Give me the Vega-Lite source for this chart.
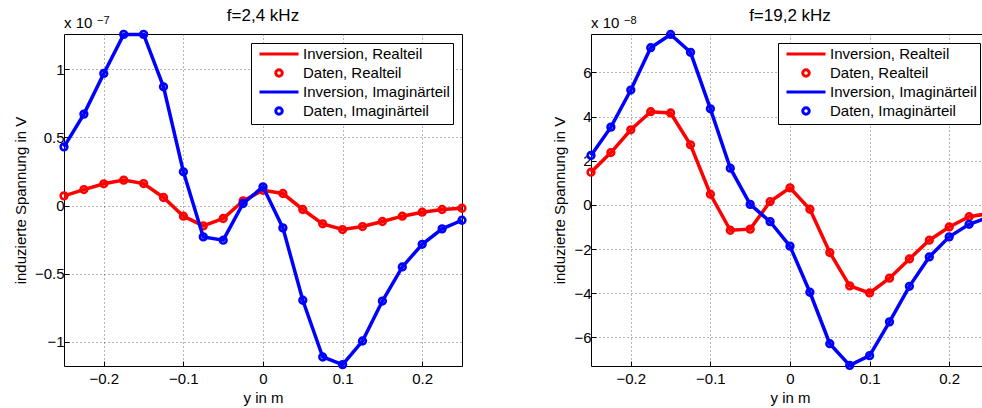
{
  "$schema": "https://vega.github.io/schema/vega-lite/v6.json",
  "padding": {"left": 12, "top": 6, "right": 0, "bottom": 0},
  "spacing": 80,
  "resolve": {"scale": {"color": "independent", "x": "independent", "y": "independent"}, "legend": {"color": "independent"}},
  "config": {
    "font": "Liberation Sans",
    "view": {"stroke": "#000", "strokeWidth": 1},
    "axis": {
      "labelFont": "Liberation Sans", "labelFontSize": 15, "labelColor": "#000",
      "titleFont": "Liberation Sans", "titleFontSize": 15, "titleFontWeight": "normal", "titleColor": "#000",
      "domain": false, "tickColor": "#000", "tickSize": -5, "tickWidth": 1,
      "grid": true, "gridColor": "#444", "gridDash": [1, 3], "gridOpacity": 0.8
    },
    "axisY": {"titlePadding": 6, "labelPadding": 5},
    "axisX": {"titlePadding": 4, "labelPadding": 10},
    "title": {"font": "Liberation Sans", "fontSize": 17, "fontWeight": "normal", "color": "#000", "anchor": "middle", "offset": -10},
    "legend": {
      "orient": "top-right", "offset": 9, "fillColor": "#fff", "strokeColor": "#000", "padding": 3,
      "labelFont": "Liberation Sans", "labelFontSize": 15, "labelColor": "#000", "labelLimit": 300,
      "symbolSize": 169, "symbolStrokeWidth": 3, "rowPadding": 1, "symbolOffset": 17, "labelOffset": 16
    }
  },
  "hconcat": [
    {
      "width": 398, "height": 332,
      "title": "f=2,4 kHz",
      "data": {"values": [
        {"pos": -0.25, "u": 0.071, "s": "Re"}, {"pos": -0.25, "u": 0.43, "s": "Im"},
        {"pos": -0.225, "u": 0.117, "s": "Re"}, {"pos": -0.225, "u": 0.67, "s": "Im"},
        {"pos": -0.2, "u": 0.159, "s": "Re"}, {"pos": -0.2, "u": 0.968, "s": "Im"},
        {"pos": -0.175, "u": 0.186, "s": "Re"}, {"pos": -0.175, "u": 1.254, "s": "Im"},
        {"pos": -0.15, "u": 0.161, "s": "Re"}, {"pos": -0.15, "u": 1.254, "s": "Im"},
        {"pos": -0.125, "u": 0.059, "s": "Re"}, {"pos": -0.125, "u": 0.87, "s": "Im"},
        {"pos": -0.1, "u": -0.078, "s": "Re"}, {"pos": -0.1, "u": 0.247, "s": "Im"},
        {"pos": -0.075, "u": -0.149, "s": "Re"}, {"pos": -0.075, "u": -0.23, "s": "Im"},
        {"pos": -0.05, "u": -0.095, "s": "Re"}, {"pos": -0.05, "u": -0.254, "s": "Im"},
        {"pos": -0.025, "u": 0.034, "s": "Re"}, {"pos": -0.025, "u": 0.015, "s": "Im"},
        {"pos": 0, "u": 0.112, "s": "Re"}, {"pos": 0, "u": 0.137, "s": "Im"},
        {"pos": 0.025, "u": 0.088, "s": "Re"}, {"pos": 0.025, "u": -0.164, "s": "Im"},
        {"pos": 0.05, "u": -0.029, "s": "Re"}, {"pos": 0.05, "u": -0.694, "s": "Im"},
        {"pos": 0.075, "u": -0.134, "s": "Re"}, {"pos": 0.075, "u": -1.11, "s": "Im"},
        {"pos": 0.1, "u": -0.176, "s": "Re"}, {"pos": 0.1, "u": -1.166, "s": "Im"},
        {"pos": 0.125, "u": -0.154, "s": "Re"}, {"pos": 0.125, "u": -0.993, "s": "Im"},
        {"pos": 0.15, "u": -0.117, "s": "Re"}, {"pos": 0.15, "u": -0.7, "s": "Im"},
        {"pos": 0.175, "u": -0.078, "s": "Re"}, {"pos": 0.175, "u": -0.45, "s": "Im"},
        {"pos": 0.2, "u": -0.049, "s": "Re"}, {"pos": 0.2, "u": -0.284, "s": "Im"},
        {"pos": 0.225, "u": -0.029, "s": "Re"}, {"pos": 0.225, "u": -0.171, "s": "Im"},
        {"pos": 0.25, "u": -0.02, "s": "Re"}, {"pos": 0.25, "u": -0.108, "s": "Im"}
      ]},
      "encoding": {
        "x": {"field": "pos", "type": "quantitative", "title": "y in m",
              "scale": {"domain": [-0.25, 0.25], "nice": false, "zero": false},
              "axis": {"values": [-0.2, -0.1, 0, 0.1, 0.2], "format": "~g"}},
        "y": {"field": "u", "type": "quantitative", "title": "induzierte Spannung in V",
              "scale": {"domain": [-1.176, 1.257], "nice": false, "zero": false},
              "axis": {"values": [-1, -0.5, 0, 0.5, 1], "format": "~g"}}
      },
      "layer": [
        {"transform": [{"filter": "datum.s == 'Re'"}],
         "mark": {"type": "line", "strokeWidth": 3.5},
         "encoding": {"color": {"datum": "Inversion, Realteil", "type": "nominal",
           "scale": {"domain": ["Inversion, Realteil", "Daten, Realteil", "Inversion, Imaginärteil", "Daten, Imaginärteil"], "range": ["#ff0000", "#ff0000", "#0000ff", "#0000ff"]},
           "legend": {"title": null, "encode": {"symbols": {"update": {
             "shape": {"signal": "indexof(datum.value, 'Inversion') === 0 ? 'M-3,0H3' : 'M0.5,0A0.5,0.5,0,1,1,-0.5,0A0.5,0.5,0,1,1,0.5,0'"},
             "fill": {"value": "transparent"},
             "stroke": {"signal": "indexof(datum.value, 'Real') >= 0 ? '#ff0000' : '#0000ff'"},
             "strokeWidth": {"value": 3}, "size": {"value": 169}, "opacity": {"value": 1}}}}}}}},
        {"transform": [{"filter": "datum.s == 'Re'"}],
         "mark": {"type": "point", "shape": "circle", "filled": false, "size": 45, "strokeWidth": 2.6, "opacity": 1},
         "encoding": {"color": {"datum": "Daten, Realteil", "type": "nominal"}}},
        {"transform": [{"filter": "datum.s == 'Im'"}],
         "mark": {"type": "line", "strokeWidth": 3.5},
         "encoding": {"color": {"datum": "Inversion, Imaginärteil", "type": "nominal"}}},
        {"transform": [{"filter": "datum.s == 'Im'"}],
         "mark": {"type": "point", "shape": "circle", "filled": false, "size": 45, "strokeWidth": 2.6, "opacity": 1},
         "encoding": {"color": {"datum": "Daten, Imaginärteil", "type": "nominal"}}},
        {"data": {"values": [{"t": "x 10", "e": "−7", "px": -0.25, "py": 1.257}]},
         "mark": {"type": "text", "align": "left", "baseline": "alphabetic", "dy": -6, "fill": "#000"},
         "encoding": {"x": {"field": "px", "type": "quantitative"}, "y": {"field": "py", "type": "quantitative"}, "text": {"field": "t"}, "size": {"value": 15}}},
        {"data": {"values": [{"t": "x 10", "e": "−7", "px": -0.25, "py": 1.257}]},
         "mark": {"type": "text", "align": "left", "baseline": "alphabetic", "dx": 33, "dy": -10, "fill": "#000"},
         "encoding": {"x": {"field": "px", "type": "quantitative"}, "y": {"field": "py", "type": "quantitative"}, "text": {"field": "e"}, "size": {"value": 11}}}
      ]
    },
    {
      "width": 398, "height": 332,
      "title": "f=19,2 kHz",
      "data": {"values": [
        {"pos": -0.25, "u": 1.48, "s": "Re"}, {"pos": -0.25, "u": 2.24, "s": "Im"},
        {"pos": -0.225, "u": 2.37, "s": "Re"}, {"pos": -0.225, "u": 3.52, "s": "Im"},
        {"pos": -0.2, "u": 3.4, "s": "Re"}, {"pos": -0.2, "u": 5.2, "s": "Im"},
        {"pos": -0.175, "u": 4.22, "s": "Re"}, {"pos": -0.175, "u": 7.12, "s": "Im"},
        {"pos": -0.15, "u": 4.16, "s": "Re"}, {"pos": -0.15, "u": 7.72, "s": "Im"},
        {"pos": -0.125, "u": 2.72, "s": "Re"}, {"pos": -0.125, "u": 6.91, "s": "Im"},
        {"pos": -0.1, "u": 0.48, "s": "Re"}, {"pos": -0.1, "u": 4.35, "s": "Im"},
        {"pos": -0.075, "u": -1.15, "s": "Re"}, {"pos": -0.075, "u": 1.66, "s": "Im"},
        {"pos": -0.05, "u": -1.1, "s": "Re"}, {"pos": -0.05, "u": 0.02, "s": "Im"},
        {"pos": -0.025, "u": 0.15, "s": "Re"}, {"pos": -0.025, "u": -0.76, "s": "Im"},
        {"pos": 0, "u": 0.77, "s": "Re"}, {"pos": 0, "u": -1.87, "s": "Im"},
        {"pos": 0.025, "u": -0.2, "s": "Re"}, {"pos": 0.025, "u": -3.96, "s": "Im"},
        {"pos": 0.05, "u": -2.16, "s": "Re"}, {"pos": 0.05, "u": -6.29, "s": "Im"},
        {"pos": 0.075, "u": -3.67, "s": "Re"}, {"pos": 0.075, "u": -7.27, "s": "Im"},
        {"pos": 0.1, "u": -3.99, "s": "Re"}, {"pos": 0.1, "u": -6.83, "s": "Im"},
        {"pos": 0.125, "u": -3.32, "s": "Re"}, {"pos": 0.125, "u": -5.3, "s": "Im"},
        {"pos": 0.15, "u": -2.45, "s": "Re"}, {"pos": 0.15, "u": -3.69, "s": "Im"},
        {"pos": 0.175, "u": -1.6, "s": "Re"}, {"pos": 0.175, "u": -2.36, "s": "Im"},
        {"pos": 0.2, "u": -1.0, "s": "Re"}, {"pos": 0.2, "u": -1.45, "s": "Im"},
        {"pos": 0.225, "u": -0.54, "s": "Re"}, {"pos": 0.225, "u": -0.88, "s": "Im"},
        {"pos": 0.25, "u": -0.39, "s": "Re"}, {"pos": 0.25, "u": -0.55, "s": "Im"}
      ]},
      "encoding": {
        "x": {"field": "pos", "type": "quantitative", "title": "y in m",
              "scale": {"domain": [-0.25, 0.25], "nice": false, "zero": false},
              "axis": {"values": [-0.2, -0.1, 0, 0.1, 0.2], "format": "~g"}},
        "y": {"field": "u", "type": "quantitative", "title": "induzierte Spannung in V",
              "scale": {"domain": [-7.3, 7.74], "nice": false, "zero": false},
              "axis": {"values": [-6, -4, -2, 0, 2, 4, 6], "format": "~g"}}
      },
      "layer": [
        {"transform": [{"filter": "datum.s == 'Re'"}],
         "mark": {"type": "line", "strokeWidth": 3.5},
         "encoding": {"color": {"datum": "Inversion, Realteil", "type": "nominal",
           "scale": {"domain": ["Inversion, Realteil", "Daten, Realteil", "Inversion, Imaginärteil", "Daten, Imaginärteil"], "range": ["#ff0000", "#ff0000", "#0000ff", "#0000ff"]},
           "legend": {"title": null, "encode": {"symbols": {"update": {
             "shape": {"signal": "indexof(datum.value, 'Inversion') === 0 ? 'M-3,0H3' : 'M0.5,0A0.5,0.5,0,1,1,-0.5,0A0.5,0.5,0,1,1,0.5,0'"},
             "fill": {"value": "transparent"},
             "stroke": {"signal": "indexof(datum.value, 'Real') >= 0 ? '#ff0000' : '#0000ff'"},
             "strokeWidth": {"value": 3}, "size": {"value": 169}, "opacity": {"value": 1}}}}}}}},
        {"transform": [{"filter": "datum.s == 'Re'"}],
         "mark": {"type": "point", "shape": "circle", "filled": false, "size": 45, "strokeWidth": 2.6, "opacity": 1},
         "encoding": {"color": {"datum": "Daten, Realteil", "type": "nominal"}}},
        {"transform": [{"filter": "datum.s == 'Im'"}],
         "mark": {"type": "line", "strokeWidth": 3.5},
         "encoding": {"color": {"datum": "Inversion, Imaginärteil", "type": "nominal"}}},
        {"transform": [{"filter": "datum.s == 'Im'"}],
         "mark": {"type": "point", "shape": "circle", "filled": false, "size": 45, "strokeWidth": 2.6, "opacity": 1},
         "encoding": {"color": {"datum": "Daten, Imaginärteil", "type": "nominal"}}},
        {"data": {"values": [{"t": "x 10", "e": "−8", "px": -0.25, "py": 7.74}]},
         "mark": {"type": "text", "align": "left", "baseline": "alphabetic", "dy": -6, "fill": "#000"},
         "encoding": {"x": {"field": "px", "type": "quantitative"}, "y": {"field": "py", "type": "quantitative"}, "text": {"field": "t"}, "size": {"value": 15}}},
        {"data": {"values": [{"t": "x 10", "e": "−8", "px": -0.25, "py": 7.74}]},
         "mark": {"type": "text", "align": "left", "baseline": "alphabetic", "dx": 33, "dy": -10, "fill": "#000"},
         "encoding": {"x": {"field": "px", "type": "quantitative"}, "y": {"field": "py", "type": "quantitative"}, "text": {"field": "e"}, "size": {"value": 11}}}
      ]
    }
  ]
}
